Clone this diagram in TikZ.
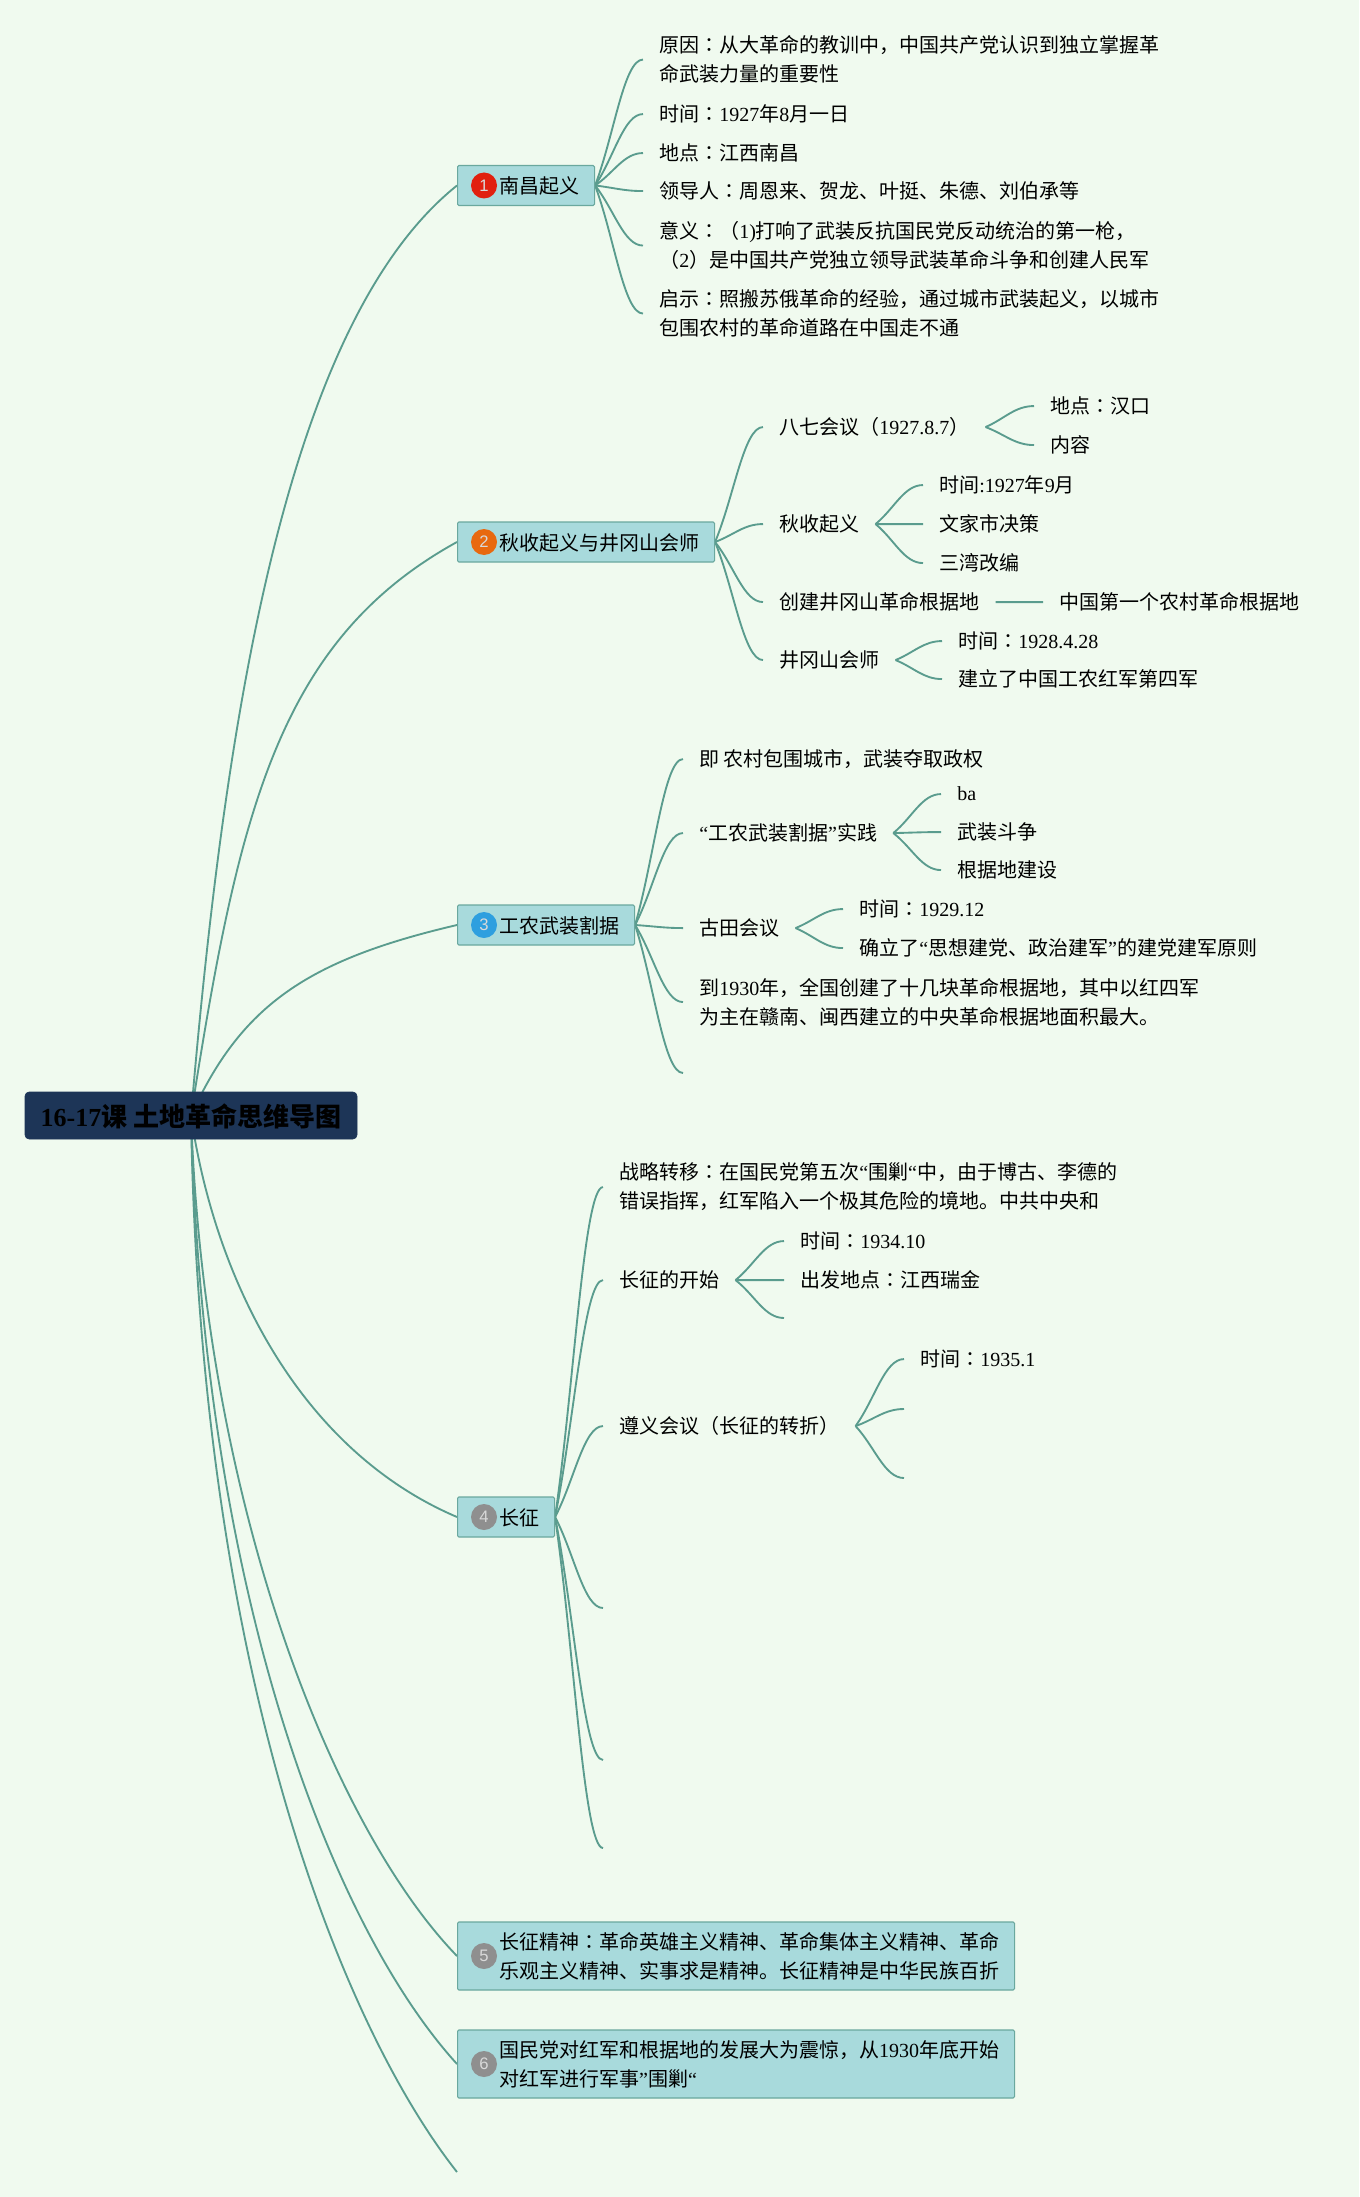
\documentclass[tikz,border=0pt]{standalone}
\usepackage{xcolor}
\usepackage{fontspec}
\setmainfont{Noto Sans CJK SC}
\newfontfamily\latf{Liberation Serif}
\newfontfamily\jpf{Noto Sans CJK JP}
\newfontfamily\numf{Liberation Sans}
\usetikzlibrary{calc}

\definecolor{pagebg}{HTML}{F0FAEF}
\definecolor{linkc}{HTML}{5A9C8E}
\definecolor{topicc}{HTML}{A8DADC}
\definecolor{rootc}{HTML}{1D3557}

\newcommand{\lat}[1]{{\latf #1}}
\newcommand{\cln}{{\jpf ：}}
\newcommand{\topictext}[1]{\hspace*{19.75pt}\raisebox{-5.3pt}[0pt][0pt]{\begin{tabular}{@{}l@{}}#1\end{tabular}}}
\newcommand{\branch}[2]{\draw [linkline] let \p1=(#1), \p2=(#2), \n1={\x2-\x1} in (\p1) .. controls ($(\p1)!0.4!(\p2)$) and ({\x2-0.4*\n1},\y2) .. (\p2);}

\pgfdeclarelayer{bg}
\pgfdeclarelayer{edges}
\pgfsetlayers{bg,edges,main}

\tikzset{
  leaf/.style={anchor=west,inner xsep=12pt,inner ysep=2pt,yshift=-0.8pt,align=left,font=\fontsize{15}{21.75}\selectfont},
  topic/.style={anchor=west,draw=linkc!80!topicc,fill=topicc,line width=0.8pt,rounded corners=1pt,inner xsep=11.5pt,inner ysep=0pt,minimum height=30pt,font=\fontsize{15}{21.75}\selectfont},
  badge/.style={circle,inner sep=0pt,minimum size=19.5pt,text=white!85!black,font=\numf\fontsize{12.5}{12.5}\selectfont},
  linkline/.style={draw=linkc,line width=1.4pt},
}

\begin{document}
\begin{tikzpicture}[x=0.75pt,y=0.75pt,yscale=-1,xscale=1]

    \useasboundingbox (0,0) rectangle (1359,2197);
    \begin{pgfonlayer}{bg}
    \fill [pagebg] (0,0) rectangle (1359,2197);
    \end{pgfonlayer}

    \node (root) [draw=rootc,fill=rootc,rounded corners=3pt,inner sep=0pt,minimum width=249pt,minimum height=35.25pt,font=\fontsize{19.5}{24}\selectfont\bfseries] at (191,1115.5) {\raisebox{-8pt}[0pt][0pt]{\lat{16-17}课 土地革命思维导图}};

    % topics
    \node (n1) [topic] at (457,185.5) {\topictext{南昌起义}};
    \node (n2) [topic] at (457,542) {\topictext{秋收起义与井冈山会师}};
    \node (n3) [topic] at (457,925) {\topictext{工农武装割据}};
    \node (n4) [topic] at (457,1517) {\topictext{长征}};
    \node (n5) [topic,minimum height=51pt] at (457,1956) {\topictext{长征精神\cln 革命英雄主义精神、革命集体主义精神、革命\\乐观主义精神、实事求是精神。长征精神是中华民族百折}};
    \node (n6) [topic,minimum height=51pt] at (457,2064) {\topictext{国民党对红军和根据地的发展大为震惊，从\lat{1930}年底开始\\对红军进行军事\lat{”}围剿\lat{“}}};
    \node (b1) [badge,fill={rgb,255:red,225;green,32;blue,15}] at ([xshift=20.25pt]n1.west) {1};
    \node (b2) [badge,fill={rgb,255:red,232;green,105;blue,15}] at ([xshift=20.25pt]n2.west) {2};
    \node (b3) [badge,fill={rgb,255:red,46;green,159;blue,223}] at ([xshift=20.25pt]n3.west) {3};
    \node (b4) [badge,fill={rgb,255:red,143;green,143;blue,143}] at ([xshift=20.25pt]n4.west) {4};
    \node (b5) [badge,fill={rgb,255:red,143;green,143;blue,143}] at ([xshift=20.25pt]n5.west) {5};
    \node (b6) [badge,fill={rgb,255:red,143;green,143;blue,143}] at ([xshift=20.25pt]n6.west) {6};
    \coordinate (e0) at (457,2172);

    % first topic
    \node (a1) [leaf] at (643,58.5) {原因\cln 从大革命的教训中，中国共产党认识到独立掌握革\\命武装力量的重要性};
    \node (a2) [leaf] at (643,113) {时间\cln \lat{1927}年\lat{8}月一日};
    \node (a3) [leaf] at (643,152) {地点\cln 江西南昌};
    \node (a4) [leaf] at (643,190) {领导人\cln 周恩来、贺龙、叶挺、朱德、刘伯承等};
    \node (a5) [leaf] at (643,244.5) {意义\cln （\lat{1)}打响了武装反抗国民党反动统治的第一枪，\\（\lat{2}）是中国共产党独立领导武装革命斗争和创建人民军};
    \node (a6) [leaf] at (643,312.5) {启示\cln 照搬苏俄革命的经验，通过城市武装起义，以城市\\包围农村的革命道路在中国走不通};

    % second topic
    \node (b21) [leaf] at (763,426) {八七会议（\lat{1927.8.7}）};
    \node (b22) [leaf] at (763,523) {秋收起义};
    \node (b23) [leaf] at (763,601) {创建井冈山革命根据地};
    \node (b24) [leaf] at (763,659) {井冈山会师};
    \node (c1) [leaf] at (1034,405) {地点\cln 汉口};
    \node (c2) [leaf] at (1034,444) {内容};
    \node (c3) [leaf] at (923,484) {时间\lat{:1927}年\lat{9}月};
    \node (c4) [leaf] at (923,523) {文家市决策};
    \node (c5) [leaf] at (923,562) {三湾改编};
    \node (c6) [leaf] at (1043,601) {中国第一个农村革命根据地};
    \node (c7) [leaf] at (942,640) {时间\cln \lat{1928.4.28}};
    \node (c8) [leaf] at (942,678) {建立了中国工农红军第四军};

    % third topic
    \node (d1) [leaf] at (683,758) {即 农村包围城市，武装夺取政权};
    \node (d2) [leaf] at (683,832) {\lat{“}工农武装割据\lat{”}实践};
    \node (d3) [leaf] at (683,927) {古田会议};
    \node (d4) [leaf] at (683,1001) {到\lat{1930}年，全国创建了十几块革命根据地，其中以红四军\\为主在赣南、闽西建立的中央革命根据地面积最大。};
    \coordinate (d5) at (683,1073);
    \node (f1) [leaf] at (941,793) {\lat{ba}};
    \node (f2) [leaf] at (941,831) {武装斗争};
    \node (f3) [leaf] at (941,869) {根据地建设};
    \node (f4) [leaf] at (843,908) {时间\cln \lat{1929.12}};
    \node (f5) [leaf] at (843,947) {确立了\lat{“}思想建党、政治建军\lat{”}的建党建军原则};

    % fourth topic
    \node (g1) [leaf] at (603,1186) {战略转移\cln 在国民党第五次\lat{“}围剿\lat{“}中，由于博古、李德的\\错误指挥，红军陷入一个极其危险的境地。中共中央和};
    \node (g2) [leaf] at (603,1279) {长征的开始};
    \node (g3) [leaf] at (603,1425) {遵义会议（长征的转折）};
    \coordinate (g4) at (603,1608);
    \coordinate (g5) at (603,1760);
    \coordinate (g6) at (603,1848);
    \node (h1) [leaf] at (784,1240) {时间\cln \lat{1934.10}};
    \node (h2) [leaf] at (784,1279) {出发地点\cln 江西瑞金};
    \coordinate (h3) at (784,1318);
    \node (h4) [leaf] at (904,1358) {时间\cln \lat{1935.1}};
    \coordinate (h5) at (904,1409);
    \coordinate (h6) at (904,1478);

    \begin{pgfonlayer}{edges}
    \draw [linkline] (root.center) .. controls +(34,-400) and +(-170,136) .. (n1.west);
    \draw [linkline] (root.center) .. controls +(47,-300) and +(-180,99) .. (n2.west);
    \draw [linkline] (root.center) .. controls +(50,-110) and +(-150,35) .. (n3.west);
    \draw [linkline] (root.center) .. controls +(24,165) and +(-157,-67) .. (n4.west);
    \draw [linkline] (root.center) .. controls +(14,395) and +(-122,-126) .. (n5.west);
    \draw [linkline] (root.center) .. controls +(12,485) and +(-122,-134) .. (n6.west);
    \draw [linkline] (root.center) .. controls +(9,565) and +(-112,-142) .. (e0);

    \foreach \t in {a1.west,a2.west,a3.west,a4.west,a5.west,a6.west} \branch{n1.east}{\t};
    \foreach \t in {b21.west,b22.west,b23.west,b24.west} \branch{n2.east}{\t};
    \branch{b21.east}{c1.west};
    \branch{b21.east}{c2.west};
    \foreach \t in {c3.west,c4.west,c5.west} \branch{b22.east}{\t};
    \branch{b23.east}{c6.west};
    \branch{b24.east}{c7.west};
    \branch{b24.east}{c8.west};
    \foreach \t in {d1.west,d2.west,d3.west,d4.west,d5} \branch{n3.east}{\t};
    \foreach \t in {f1.west,f2.west,f3.west} \branch{d2.east}{\t};
    \branch{d3.east}{f4.west};
    \branch{d3.east}{f5.west};
    \foreach \t in {g1.west,g2.west,g3.west,g4,g5,g6} \branch{n4.east}{\t};
    \foreach \t in {h1.west,h2.west,h3} \branch{g2.east}{\t};
    \foreach \t in {h4.west,h5,h6} \branch{g3.east}{\t};
    \end{pgfonlayer}

\end{tikzpicture}
\end{document}
